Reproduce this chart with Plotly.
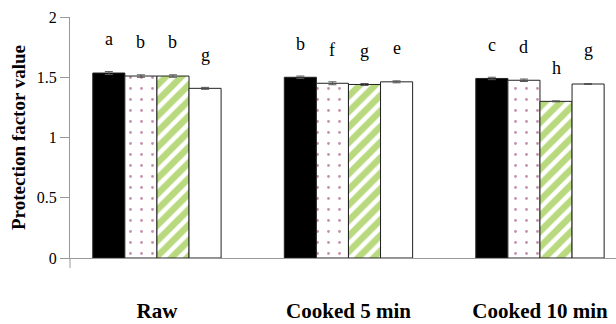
import plotly.graph_objects as go

categories = ["Raw", "Cooked 5 min", "Cooked 10 min"]
series_names = ["Treatment 1", "Treatment 2", "Treatment 3", "Treatment 4"]
values = [
    [1.535, 1.500, 1.490],
    [1.510, 1.450, 1.475],
    [1.510, 1.440, 1.300],
    [1.408, 1.462, 1.444],
]
errors = [
    [0.012, 0.010, 0.010],
    [0.010, 0.012, 0.010],
    [0.010, 0.008, 0.004],
    [0.008, 0.008, 0.004],
]
letters = [
    ["a", "b", "c"],
    ["b", "f", "d"],
    ["b", "g", "h"],
    ["g", "e", "g"],
]

FONT = "Liberation Serif, Times New Roman, serif"
bargap = 0.33
nser = len(series_names)
bw = (1 - bargap) / nser

fills = [
    dict(color="black"),
    dict(color="white", pattern=dict(shape=".", fgcolor="#8e1f5c", bgcolor="white", size=11, solidity=0.05)),
    dict(color="white", pattern=dict(shape="/", fgcolor="#74b300", bgcolor="white", size=11, solidity=0.6)),
    dict(color="white"),
]

fig = go.Figure()
for j in range(nser):
    fig.add_trace(go.Bar(
        name=series_names[j], x=categories, y=values[j],
        marker=dict(**fills[j], line=dict(color="#222", width=1)),
        error_y=dict(type="data", array=errors[j], color="#555", thickness=1, width=4),
        showlegend=False,
    ))

annotations = []
for j in range(nser):
    for i in range(len(categories)):
        annotations.append(dict(
            x=i + (j - (nser - 1) / 2) * bw, y=values[j][i] + 0.28,
            xref="x", yref="y", text=letters[j][i], showarrow=False,
            yanchor="middle", font=dict(family=FONT, size=18, color="black"),
        ))

fig.update_layout(
    width=616, height=324,
    margin=dict(l=70, r=0, t=17, b=66, autoexpand=False),
    paper_bgcolor="white", plot_bgcolor="white",
    barmode="group", bargap=bargap, bargroupgap=0,
    font=dict(family=FONT, color="black"),
    annotations=annotations,
    shapes=[dict(type="line", xref="paper", yref="paper", x0=0, x1=0, y0=0, y1=-0.042,
                 line=dict(color="#999", width=1))],
    xaxis=dict(
        range=[-0.454, 2.397], showline=True, linecolor="#999", linewidth=1,
        ticks="outside", ticklen=34, tickcolor="rgba(0,0,0,0)",
        tickfont=dict(family=FONT, size=21, color="black", weight="bold"),
        showgrid=False, zeroline=False, automargin=False,
    ),
    yaxis=dict(
        range=[0, 2], tickvals=[0, 0.5, 1, 1.5, 2], ticktext=["0", "0.5", "1", "1.5", "2"],
        showline=True, linecolor="#999", linewidth=1,
        ticks="outside", ticklen=9, tickcolor="#999",
        tickfont=dict(family=FONT, size=16, color="black"),
        showgrid=False, zeroline=False, automargin=False,
        title=dict(text="<b>Protection factor value</b>", font=dict(family=FONT, size=19, color="black"), standoff=6),
    ),
)

fig.write_html("out.html", config={"displayModeBar": False},
               post_script="document.body.style.margin='0';document.body.style.overflow='hidden';")
